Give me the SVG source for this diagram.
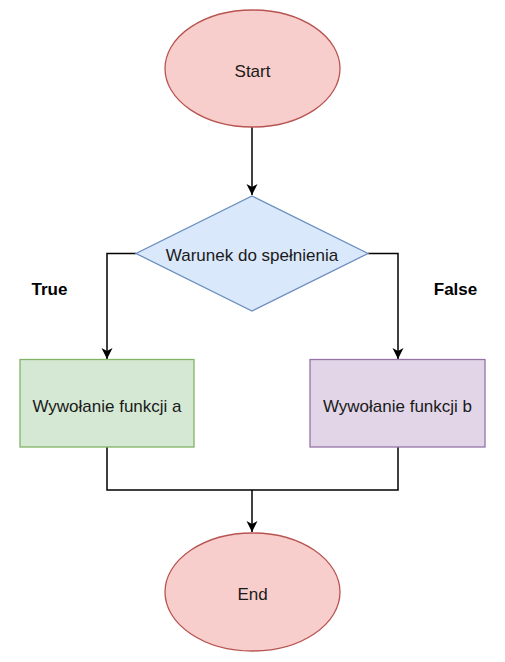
<svg xmlns="http://www.w3.org/2000/svg" width="505" height="662" viewBox="0 0 505 662">
<defs>
<style>
.t{font-family:"Liberation Sans",Arial,sans-serif;font-size:17px;fill:#1a1a1a;text-anchor:middle;dominant-baseline:central}
.b{font-family:"Liberation Sans",Arial,sans-serif;font-size:17px;font-weight:bold;fill:#000;text-anchor:middle;dominant-baseline:central}
.term{fill:#f8cecc;stroke:#b85450;stroke-width:1.3}
.c{fill:none;stroke:#000;stroke-width:1.5}
</style>
<marker id="arr" markerUnits="userSpaceOnUse" markerWidth="12" markerHeight="12" viewBox="0 0 12 12" refX="11" refY="6" orient="auto">
<path d="M0,0.5 L11,6 L0,11.5 L3,6 Z" fill="#000"/>
</marker>
</defs>
<rect width="505" height="662" fill="#fff"/>
<g id="connectors">
<path class="c" d="M252,127 V195" marker-end="url(#arr)"/>
<path class="c" d="M136,253.5 H107 V359" marker-end="url(#arr)"/>
<path class="c" d="M368,253.5 H398 V359" marker-end="url(#arr)"/>
<path class="c" d="M107,447 V490 H398 V447" stroke="#333"/>
<path class="c" d="M252,490 V532" marker-end="url(#arr)"/>
</g>
<g id="start">
<ellipse class="term" cx="252.5" cy="68.5" rx="87.5" ry="58.5"/>
<text class="t" x="252.5" y="71">Start</text>
</g>
<g id="decision">
<polygon points="252,196 368,253.5 252,311 136,253.5" fill="#dae8fc" stroke="#6c8ebf" stroke-width="1.3"/>
<text class="t" x="252" y="255">Warunek do spełnienia</text>
</g>
<g id="funcA">
<rect x="20" y="359.5" width="174" height="87.5" fill="#d5e8d4" stroke="#82b366" stroke-width="1.3"/>
<text class="t" x="107" y="406">Wywołanie funkcji a</text>
</g>
<g id="funcB">
<rect x="310" y="359.5" width="175" height="87.5" fill="#e1d5e7" stroke="#9673a6" stroke-width="1.3"/>
<text class="t" x="397.5" y="406">Wywołanie funkcji b</text>
</g>
<g id="end">
<ellipse class="term" cx="252.5" cy="592" rx="87.5" ry="59"/>
<text class="t" x="252.5" y="594">End</text>
</g>
<g id="labels">
<text class="b" x="49.5" y="289">True</text>
<text class="b" x="455.5" y="289">False</text>
</g>
</svg>
